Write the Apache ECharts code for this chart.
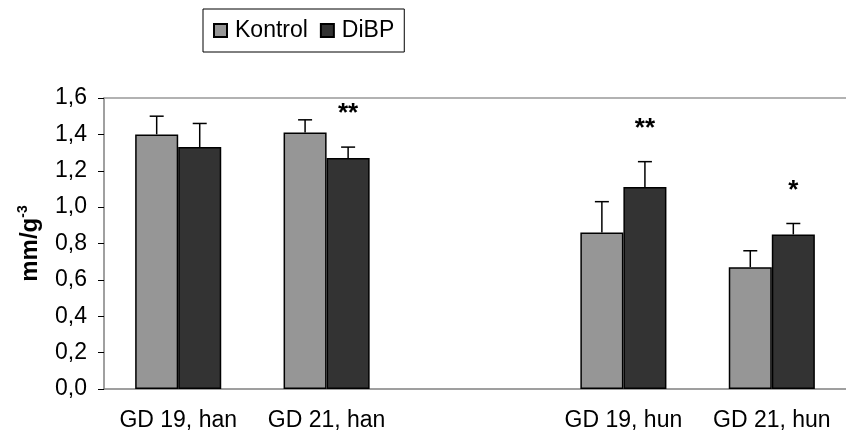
<!DOCTYPE html>
<html>
<head>
<meta charset="utf-8">
<script src="https://cdn.jsdelivr.net/npm/echarts@6/dist/echarts.min.js"></script>
<style>
  html, body { margin: 0; padding: 0; background: #fff; }
  #chart { width: 846px; height: 437px; }
</style>
</head>
<body>
<div id="chart"></div>
<script>
const categories = ['GD 19, han', 'GD 21, han', '', 'GD 19, hun', 'GD 21, hun'];
const kontrol = [1.40, 1.41, null, 0.86, 0.67];
const kontrolErr = [0.10, 0.07, null, 0.17, 0.09];
const dibp = [1.33, 1.27, null, 1.11, 0.85];
const dibpErr = [0.13, 0.06, null, 0.14, 0.06];
const dibpStars = ['', '**', '', '**', '*'];
const yTicks = [0, 0.2, 0.4, 0.6, 0.8, 1.0, 1.2, 1.4, 1.6];

const font = 'Liberation Sans, Arial, sans-serif';
const catGap = 0.42;

function errData(vals, errs) {
    return vals.map((v, i) => v == null ? null : [i, v, errs[i]]);
}

// upward-only error bars, plus significance stars above them
function errRender(side, stars) {
    return function (params, api) {
        const x = api.value(0), v = api.value(1), e = api.value(2);
        const star = stars ? stars[x] : '';
        const bw = api.size([1, 0])[0];
        const off = side * bw * (1 - catGap) / 4;
        const base = api.coord([x, v]);
        const top = api.coord([x, v + e]);
        const cx = base[0] + off;
        const children = [
            { type: 'line', shape: { x1: cx, y1: base[1], x2: cx, y2: top[1] }, style: { stroke: '#000', lineWidth: 1.5 } },
            { type: 'line', shape: { x1: cx - 7, y1: top[1], x2: cx + 7, y2: top[1] }, style: { stroke: '#000', lineWidth: 1.5 } }
        ];
        if (star) {
            children.push({
                type: 'text',
                style: { text: star, x: cx, y: top[1] - 20, align: 'center', verticalAlign: 'bottom', font: 'bold 26px ' + font, fill: '#000' }
            });
        }
        return { type: 'group', children: children };
    };
}

const chart = echarts.init(document.getElementById('chart'));
chart.setOption({
    animation: false,
    textStyle: { fontFamily: font },
    legend: {
        left: 203, top: 9,
        padding: [10, 10, 10, 10],
        borderColor: '#000', borderWidth: 1,
        itemWidth: 13, itemHeight: 13, itemGap: 12,
        icon: 'rect',
        textStyle: { fontSize: 23, color: '#000', fontFamily: font, padding: [0, 0, 0, 3] },
        data: ['Kontrol', 'DiBP']
    },
    grid: { left: 104, top: 98, width: 750, height: 291 },
    xAxis: [{
        type: 'category',
        data: categories,
        axisLine: { lineStyle: { color: '#808080', width: 1.5 } },
        axisTick: { length: 6, lineStyle: { color: '#000' } },
        axisLabel: { fontSize: 23, color: '#000', margin: 20, fontFamily: font, interval: 0 }
    }, {
        type: 'category',
        position: 'top',
        data: categories,
        axisLine: { lineStyle: { color: '#999', width: 1.5 } },
        axisTick: { show: false },
        axisLabel: { show: false }
    }],
    yAxis: {
        type: 'value',
        min: 0, max: 1.6, interval: 0.2,
        name: '{a|mm/g}{b|-3}',
        nameLocation: 'middle',
        nameGap: 60,
        nameRotate: 90,
        nameTextStyle: {
            rich: {
                a: { fontSize: 24, fontWeight: 'bold', color: '#000', fontFamily: font },
                b: { fontSize: 14, fontWeight: 'bold', color: '#000', fontFamily: font, verticalAlign: 'top', padding: [0, 0, 14, 0] }
            }
        },
        axisLine: { show: true, lineStyle: { color: '#808080', width: 1.5 } },
        axisTick: { show: true, length: 6, lineStyle: { color: '#000' } },
        splitLine: { show: false },
        axisLabel: {
            fontSize: 23, color: '#000', margin: 17, fontFamily: font,
            formatter: v => yTicks.includes(Math.round(v * 10) / 10) ? v.toFixed(1).replace('.', ',') : ''
        }
    },
    series: [
        {
            name: 'Kontrol', type: 'bar', data: kontrol,
            barGap: '0%', barCategoryGap: (catGap * 100) + '%',
            itemStyle: { color: '#969696', borderColor: '#000', borderWidth: 1.5 }
        },
        {
            name: 'DiBP', type: 'bar', data: dibp,
            barGap: '0%', barCategoryGap: (catGap * 100) + '%',
            itemStyle: { color: '#333333', borderColor: '#000', borderWidth: 1.5 }
        },
        {
            type: 'custom', renderItem: errRender(-1, null), data: errData(kontrol, kontrolErr), z: 3,
            encode: { x: 0, y: 1 }
        },
        {
            type: 'custom', renderItem: errRender(1, dibpStars), data: errData(dibp, dibpErr), z: 3,
            encode: { x: 0, y: 1 }
        }
    ]
});
</script>
</body>
</html>
